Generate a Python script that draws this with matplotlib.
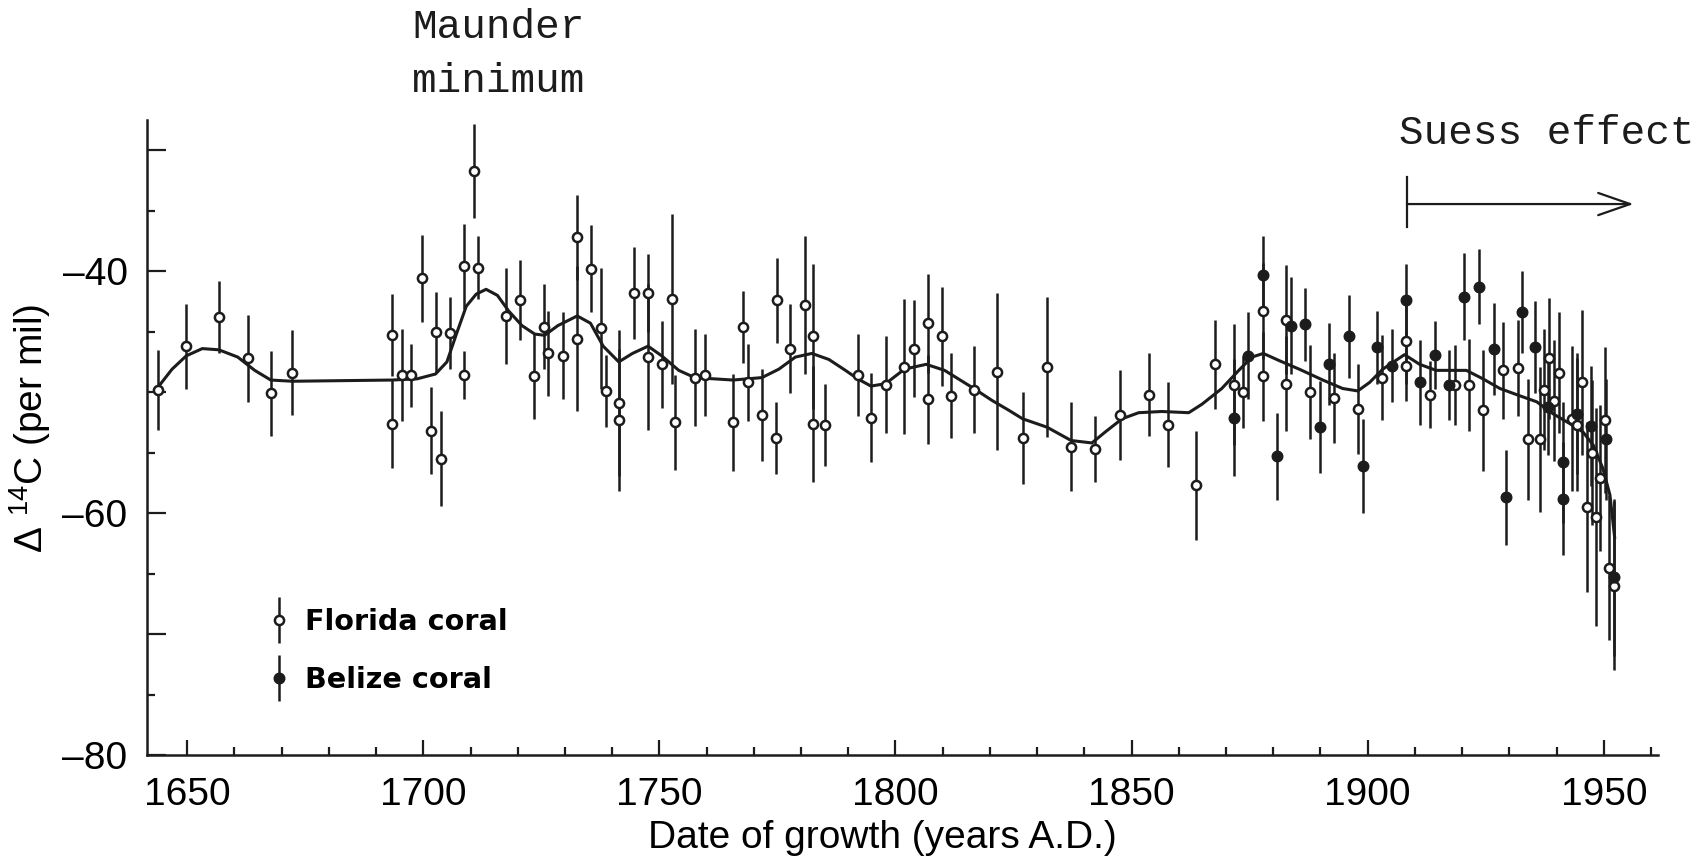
import matplotlib
matplotlib.use('Agg')
import matplotlib.pyplot as plt
from matplotlib.container import ErrorbarContainer
from matplotlib.legend_handler import HandlerErrorbar

# Florida coral (open symbols): growth year, delta 14C (per mil), error
florida_year = [1643.8, 1649.8, 1656.7, 1662.8, 1667.7, 1672.3, 1693.4, 1693.4, 1695.4, 1697.4,
                1699.7, 1701.6, 1702.6, 1703.7, 1705.7, 1708.7, 1708.7, 1710.7, 1711.6, 1717.6,
                1720.5, 1723.4, 1725.5, 1726.4, 1729.5, 1732.6, 1732.6, 1735.6, 1737.6, 1738.6,
                1741.4, 1741.4, 1744.6, 1747.6, 1747.6, 1750.5, 1752.6, 1753.3, 1757.5, 1759.6,
                1765.6, 1767.7, 1768.7, 1771.7, 1774.6, 1774.9, 1777.7, 1780.8, 1782.6, 1782.6,
                1785.0, 1792.0, 1794.8, 1797.9, 1801.9, 1803.9, 1806.8, 1806.8, 1809.9, 1811.8,
                1816.6, 1821.5, 1827.0, 1832.1, 1837.2, 1842.2, 1847.5, 1853.7, 1857.7, 1863.6,
                1867.6, 1871.7, 1873.7, 1877.9, 1877.9, 1882.7, 1882.7, 1887.8, 1892.9, 1897.9,
                1903.1, 1908.2, 1908.2, 1913.1, 1918.4, 1921.4, 1924.4, 1928.7, 1931.8, 1934.0,
                1936.5, 1937.4, 1938.4, 1939.4, 1940.5, 1943.2, 1944.3, 1945.3, 1946.4, 1947.4,
                1948.3, 1949.2, 1950.3, 1951.1, 1952.2]
florida_d14c = [-49.8, -46.2, -43.8, -47.2, -50.1, -48.4, -45.3, -52.6, -48.6, -48.6,
                -40.6, -53.2, -45.0, -55.5, -45.1, -39.6, -48.6, -31.7, -39.7, -43.7,
                -42.4, -48.7, -44.6, -46.8, -47.0, -37.2, -45.6, -39.8, -44.7, -49.9,
                -50.9, -52.3, -41.8, -41.8, -47.1, -47.7, -42.3, -52.5, -48.8, -48.6,
                -52.5, -44.6, -49.2, -51.9, -53.8, -42.4, -46.4, -42.8, -45.4, -52.6,
                -52.7, -48.6, -52.1, -49.4, -47.9, -46.4, -44.3, -50.6, -45.4, -50.3,
                -49.8, -48.3, -53.8, -47.9, -54.5, -54.7, -51.9, -50.2, -52.7, -57.7,
                -47.7, -49.4, -50.0, -43.3, -48.7, -44.0, -49.3, -50.0, -50.5, -51.4,
                -48.8, -45.8, -47.8, -50.2, -49.4, -49.4, -51.5, -48.2, -48.0, -53.9,
                -53.9, -49.8, -47.2, -50.7, -48.4, -52.2, -52.7, -49.2, -59.5, -55.0,
                -60.3, -57.1, -52.3, -64.5, -66.0]
florida_err = [3.3, 3.5, 3.0, 3.6, 3.5, 3.5, 3.4, 3.7, 3.8, 2.6,
               3.6, 3.6, 3.3, 3.9, 3.0, 3.5, 2.0, 3.9, 2.6, 4.0,
               3.3, 3.5, 3.5, 3.5, 3.6, 3.5, 6.0, 3.6, 5.0, 3.0,
               6.0, 5.9, 3.8, 3.2, 6.0, 3.6, 7.0, 3.9, 4.0, 3.4,
               4.0, 3.0, 3.2, 3.8, 3.0, 3.5, 3.7, 5.7, 6.0, 4.8,
               3.4, 3.4, 3.7, 4.0, 5.6, 4.0, 4.1, 3.7, 4.1, 3.5,
               3.6, 6.5, 3.8, 5.8, 3.7, 2.7, 3.7, 3.4, 3.5, 4.5,
               3.7, 5.0, 3.0, 4.0, 3.7, 4.5, 3.9, 3.9, 3.7, 3.7,
               3.5, 3.5, 2.9, 2.8, 3.3, 3.8, 5.0, 4.0, 4.0, 5.0,
               6.0, 5.0, 5.0, 5.0, 5.0, 6.0, 5.5, 6.0, 7.0, 6.0,
               9.0, 6.0, 6.0, 6.0, 7.0]

# Belize coral (filled symbols)
belize_year = [1871.7, 1874.7, 1877.9, 1880.9, 1883.7, 1886.8, 1889.8, 1891.9, 1896.0, 1899.1,
               1902.0, 1905.1, 1908.2, 1911.1, 1914.3, 1917.3, 1920.5, 1923.6, 1926.7, 1929.2,
               1932.6, 1935.4, 1938.2, 1941.4, 1941.4, 1944.3, 1947.3, 1950.4, 1952.2]
belize_d14c = [-52.1, -47.0, -40.3, -55.3, -44.5, -44.4, -52.9, -47.7, -45.4, -56.1,
               -46.3, -47.8, -42.4, -49.2, -46.9, -49.4, -42.1, -41.3, -46.4, -58.7,
               -43.4, -46.3, -51.2, -55.8, -58.8, -51.8, -52.8, -53.9, -65.3]
belize_err = [4.8, 3.6, 3.2, 3.6, 4.0, 3.0, 3.8, 3.4, 3.4, 3.9,
              3.0, 3.0, 3.0, 3.5, 2.8, 2.9, 3.6, 3.1, 3.8, 3.9,
              3.4, 3.8, 4.0, 5.0, 4.7, 5.0, 5.0, 5.0, 6.5]

# smoothed record
curve_year = [1643.8, 1646.8, 1649.8, 1653.2, 1656.7, 1660.7, 1664.3, 1667.7, 1672.3, 1693.4,
              1698.7, 1702.6, 1705.0, 1707.1, 1709.1, 1711.2, 1713.3, 1715.7, 1718.1, 1720.9,
              1723.6, 1725.7, 1728.5, 1732.6, 1735.4, 1738.1, 1741.4, 1744.3, 1747.6, 1750.5,
              1754.1, 1757.5, 1765.6, 1771.7, 1775.3, 1778.8, 1782.3, 1785.9, 1789.4, 1792.0,
              1794.8, 1797.9, 1801.9, 1806.5, 1810.4, 1816.6, 1820.5, 1824.0, 1826.9, 1832.1,
              1837.2, 1841.6, 1844.4, 1848.0, 1851.5, 1856.4, 1862.1, 1864.9, 1869.1, 1872.7,
              1875.5, 1877.9, 1881.3, 1885.5, 1890.5, 1894.7, 1897.9, 1900.4, 1903.2, 1907.8,
              1911.0, 1914.5, 1920.9, 1924.4, 1928.0, 1932.2, 1935.8, 1939.3, 1942.8, 1945.6,
              1947.8, 1949.8, 1951.3, 1952.3]
curve_d14c = [-49.6, -48.1, -47.0, -46.4, -46.5, -47.1, -48.2, -49.0, -49.1, -49.0,
              -48.9, -48.5, -47.5, -45.1, -42.9, -41.9, -41.5, -42.0, -43.3, -44.5,
              -45.2, -45.3, -44.5, -43.7, -44.3, -46.2, -47.5, -46.8, -46.2, -47.0,
              -48.2, -48.8, -49.0, -48.8, -48.1, -47.1, -46.8, -47.3, -48.2, -48.9,
              -49.5, -49.3, -48.1, -47.7, -48.2, -49.7, -50.7, -51.5, -52.2, -52.9,
              -54.0, -54.2, -53.3, -52.2, -51.7, -51.6, -51.7, -51.0, -49.7, -48.2,
              -47.1, -46.8, -47.4, -48.1, -49.0, -49.7, -49.9, -49.2, -48.1, -46.9,
              -47.7, -48.2, -48.2, -48.9, -49.7, -50.3, -50.8, -51.8, -52.6, -53.3,
              -54.4, -56.3, -58.5, -62.0]

xticks = [1650, 1700, 1750, 1800, 1850, 1900, 1950]
yticks = [-80, -70, -60, -50, -40, -30]
ytick_labels = ['\u201380', '', '\u201360', '', '\u201340', '']

# annotation anchors (data units)
suess_start, suess_end, suess_level = 1908.3, 1956.3, -34.45

ink = '#1c1c1c'
plt.rcParams['font.family'] = ['Liberation Sans', 'DejaVu Sans']
plt.rcParams['font.size'] = 28
plt.rcParams['axes.unicode_minus'] = False
plt.rcParams['mathtext.fontset'] = 'custom'
plt.rcParams['mathtext.rm'] = 'Liberation Sans'
plt.rcParams['mathtext.it'] = 'Liberation Sans'

fig = plt.figure(figsize=(17.02, 8.57), dpi=100)
ax = fig.add_axes([0.0864, 0.119, 0.8878, 0.741])

ax.plot(curve_year, curve_d14c, '-', color=ink, lw=2.2, zorder=2.5)

fl = ax.errorbar(florida_year, florida_d14c, yerr=florida_err, fmt='o', ms=6.6,
                 mfc='white', mec=ink, mew=1.8, ecolor=ink, elinewidth=1.8,
                 capsize=0, zorder=3, label='Florida coral')
bz = ax.errorbar(belize_year, belize_d14c, yerr=belize_err, fmt='o', ms=7.6,
                 mfc=ink, mec=ink, mew=1.0, ecolor=ink, elinewidth=1.8,
                 capsize=0, zorder=3, label='Belize coral')

ax.set_xlim(1641.5, 1961.5)
ax.set_ylim(-80, -27.5)
for s in ['top', 'right']:
    ax.spines[s].set_visible(False)
for s in ['left', 'bottom']:
    ax.spines[s].set_linewidth(1.8)
    ax.spines[s].set_color(ink)

ax.set_xticks(xticks)
ax.set_xticks(range(1660, 1961, 10), minor=True)
ax.set_yticks(yticks, labels=ytick_labels)
ax.set_yticks(range(-75, -29, 5), minor=True)
ax.tick_params(which='both', direction='in', color=ink, width=1.6)
ax.tick_params(axis='x', which='major', length=11, pad=16)
ax.tick_params(axis='x', which='minor', length=6)
ax.tick_params(axis='y', which='major', length=14, pad=14)
ax.tick_params(axis='y', which='minor', length=6)

ax.set_xlabel('Date of growth (years A.D.)')
ax.xaxis.set_label_coords(0.4864, -0.102)
ax.xaxis.label.set_va('top')
ax.set_ylabel('\u0394 $^{14}$C (per mil)')
ax.yaxis.set_label_coords(-0.062, 0.515)

mono = dict(family='Liberation Mono', size=29.5, color=ink)
ax.text(1697.6, -20.75, 'Maunder', ha='left', va='baseline', **mono)
ax.text(1697.6, -25.16, 'minimum', ha='left', va='baseline', **mono)
ax.text(1906.7, -29.5, 'Suess effect', ha='left', va='baseline', **mono)
ax.plot([suess_start, suess_start], [suess_level + 2.25, suess_level - 1.9],
        color=ink, lw=1.6, clip_on=False)
ax.annotate('', xy=(suess_end, suess_level), xytext=(suess_start, suess_level),
            arrowprops=dict(arrowstyle='->,head_length=2.3,head_width=0.8',
                            mutation_scale=10, color=ink, lw=1.6,
                            shrinkA=0, shrinkB=0),
            annotation_clip=False)

ax.legend(handles=[fl, bz], loc='upper left', bbox_to_anchor=(265 / 1702, 1 - 608 / 857),
          bbox_transform=fig.transFigure, frameon=False, borderpad=0, borderaxespad=0,
          handlelength=1.0, handletextpad=0.4, labelspacing=1.04, numpoints=1,
          handler_map={ErrorbarContainer: HandlerErrorbar(yerr_size=0.8)},
          prop=dict(family='DejaVu Sans', weight='bold', size=20.6))

fig.savefig('out.png', dpi=100)
